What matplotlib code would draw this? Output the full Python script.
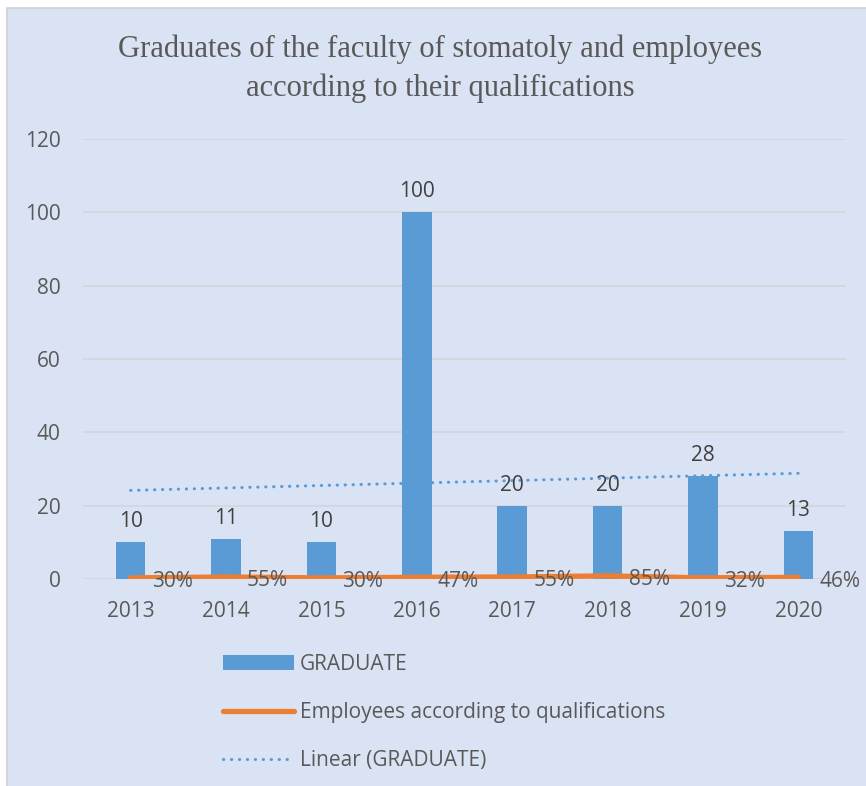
import matplotlib.pyplot as plt
from matplotlib.patches import Rectangle
import numpy as np

years = ['2013', '2014', '2015', '2016', '2017', '2018', '2019', '2020']
graduates = [10, 11, 10, 100, 20, 20, 28, 13]
employed_share = [0.30, 0.55, 0.30, 0.47, 0.55, 0.85, 0.32, 0.46]

BLUE = '#5b9bd5'
ORANGE = '#ed7d31'
BG = '#dae3f3'
GRID = '#d4d6d9'
TICK = '#595959'
LABEL = '#404040'
FS = 15

plt.rcParams['font.family'] = ['Open Sans', 'DejaVu Sans']

fig = plt.figure(figsize=(8.66, 7.86), dpi=100)
fig.patch.set_facecolor('white')
fig.patches.append(Rectangle((7 / 866, -0.01), 1.0, 1 - 8 / 786 + 0.01,
                             transform=fig.transFigure, facecolor=BG,
                             edgecolor='#d0d0d0', linewidth=1.2, zorder=-10))

ax = fig.add_axes([83 / 866, 1 - 579 / 786, (846 - 83) / 866, (579 - 139) / 786])
ax.set_facecolor('none')

x = np.arange(len(years))
bars = ax.bar(x, graduates, width=0.31, color=BLUE, zorder=2, label='GRADUATE')
for xi, v in zip(x, graduates):
    ax.annotate(str(v), (xi, v), xytext=(0, 10), textcoords='offset pixels',
                ha='center', va='bottom', fontsize=FS, color=LABEL, zorder=5)

line, = ax.plot(x, employed_share, color=ORANGE, lw=3.8, solid_capstyle='round',
                zorder=4, label='Employees according to qualifications')
for xi, v in zip(x, employed_share):
    ax.annotate(f'{v:.0%}', (xi, v), xytext=(21, -4), textcoords='offset pixels',
                ha='left', va='center', fontsize=FS, color=TICK, zorder=5)

# linear trend of the graduate counts
k, b = np.polyfit(x + 1, graduates, 1)
trend, = ax.plot(x, k * (x + 1) + b, color=BLUE, lw=2.2, linestyle=(0, (0.1, 2.5)),
                 dash_capstyle='round', zorder=3, label='Linear (GRADUATE)')

ax.set_xlim(-0.5, len(years) - 0.5)
ax.set_ylim(0, 120)
ax.set_yticks(range(0, 121, 20))
ax.set_xticks(x)
ax.set_xticklabels(years)
ax.grid(axis='y', color=GRID, lw=1.3, zorder=1)
ax.set_axisbelow(True)
for s in ax.spines.values():
    s.set_visible(False)
ax.tick_params(axis='both', length=0, labelsize=FS, labelcolor=TICK)
ax.tick_params(axis='x', pad=16)
ax.tick_params(axis='y', pad=16)

fig.text(440 / 866, 1 - 49 / 786, 'Graduates of the faculty of stomatoly and employees',
         ha='center', va='center', fontsize=22, color=TICK, family='Liberation Serif')
fig.text(440 / 866, 1 - 88 / 786, 'according to their qualifications',
         ha='center', va='center', fontsize=22, color=TICK, family='Liberation Serif')

fig.legend(handles=[bars, line, trend], loc='upper left',
           bbox_to_anchor=(223 / 866, 1 - 654 / 786), frameon=False,
           fontsize=FS, labelcolor=TICK, handlelength=3.4, handletextpad=0.3,
           labelspacing=1.3, borderaxespad=0, borderpad=0)

fig.savefig('out.png', dpi=100)
